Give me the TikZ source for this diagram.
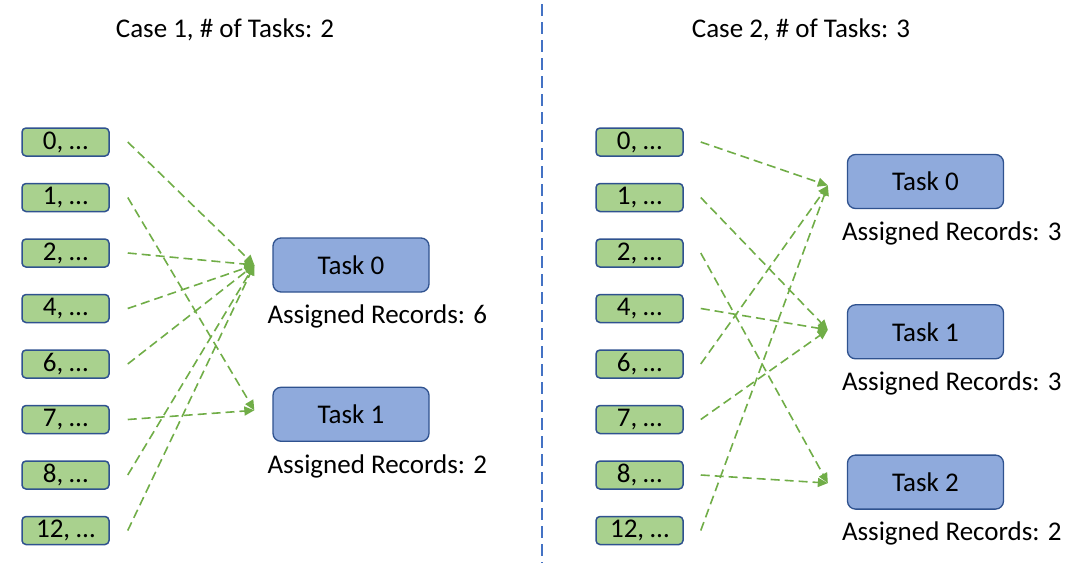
\documentclass[tikz,border=0pt]{standalone}
\usepackage{fontspec}
\setmainfont{Carlito}
\usetikzlibrary{positioning,arrows.meta}

\definecolor{recgreen}{HTML}{A9D18E}
\definecolor{taskblue}{HTML}{8FAADC}
\definecolor{edgeblue}{HTML}{2F528F}
\definecolor{linkgreen}{HTML}{70AD47}
\definecolor{splitblue}{HTML}{4472C4}

\begin{document}
\begin{tikzpicture}[
    x=1pt, y=-1pt,
    node distance=26pt,
    font=\fontsize{27pt}{32pt}\selectfont,
    record/.style={
        rectangle,
        draw=edgeblue,
        line width=1.5pt,
        fill=recgreen,
        minimum width=87pt,
        minimum height=28pt,
        inner sep=0pt,
        rounded corners=4pt
    },
    task/.style={
        rectangle,
        draw=edgeblue,
        line width=1.3pt,
        fill=taskblue,
        minimum width=156pt,
        minimum height=54pt,
        inner sep=0pt,
        rounded corners=8pt
    },
    info/.style={anchor=west, inner sep=0pt},
    assign/.style={
        draw=linkgreen,
        line width=1.6pt,
        dash pattern=on 9pt off 5pt,
        -{Triangle[length=10pt,width=9pt]}
    },
    divider/.style={draw=splitblue, line width=1.5pt, dash pattern=on 12pt off 6pt}
]
    \useasboundingbox (0,0) rectangle (1080,563);

    % Titles and split
    \node (title1) at (225,30) {Case 1, \# of Tasks: 2};
    \node (title2) at (801,30) {Case 2, \# of Tasks: 3};
    \coordinate (splittop) at (542,4);
    \coordinate (splitbot) at (542,563);
    \draw[divider] (splittop) -- (splitbot);

    % Case 1 records
    \node[record] (l0) at (65.5,142) {0, …};
    \node[record] (l1) [below=of l0] {1, …};
    \node[record] (l2) [below=of l1] {2, …};
    \node[record] (l4) [below=of l2] {4, …};
    \node[record] (l6) [below=of l4] {6, …};
    \node[record] (l7) [below=of l6] {7, …};
    \node[record] (l8) [below=of l7] {8, …};
    \node[record] (l12) [below=of l8] {12, …};

    % Case 1 tasks
    \node[task] (lt0) at (351,265) {Task 0};
    \node[task] (lt1) [below=94pt of lt0] {Task 1};
    \node[info] (lr0) at ([xshift=-5pt,yshift=-24pt]lt0.south west) {Assigned Records: 6};
    \node[info] (lr1) at ([xshift=-5pt,yshift=-24pt]lt1.south west) {Assigned Records: 2};

    % Case 2 records
    \node[record] (r0) at (639.5,142) {0, …};
    \node[record] (r1) [below=of r0] {1, …};
    \node[record] (r2) [below=of r1] {2, …};
    \node[record] (r4) [below=of r2] {4, …};
    \node[record] (r6) [below=of r4] {6, …};
    \node[record] (r7) [below=of r6] {7, …};
    \node[record] (r8) [below=of r7] {8, …};
    \node[record] (r12) [below=of r8] {12, …};

    % Case 2 tasks
    \node[task] (rt0) at (925.5,181.5) {Task 0};
    \node[task] (rt1) [below=95pt of rt0] {Task 1};
    \node[task] (rt2) [below=95pt of rt1] {Task 2};
    \node[info] (rr0) at ([xshift=-5pt,yshift=-24pt]rt0.south west) {Assigned Records: 3};
    \node[info] (rr1) at ([xshift=-5pt,yshift=-24pt]rt1.south west) {Assigned Records: 3};
    \node[info] (rr2) at ([xshift=-5pt,yshift=-24pt]rt2.south west) {Assigned Records: 2};

    % Case 1 assignment
    \draw[assign] ([xshift=18pt]l0.east) -- ([xshift=-18pt]lt0.west);
    \draw[assign] ([xshift=18pt]l2.east) -- ([xshift=-18pt]lt0.west);
    \draw[assign] ([xshift=18pt]l4.east) -- ([xshift=-18pt]lt0.west);
    \draw[assign] ([xshift=18pt]l6.east) -- ([xshift=-18pt]lt0.west);
    \draw[assign] ([xshift=18pt]l8.east) -- ([xshift=-18pt]lt0.west);
    \draw[assign] ([xshift=18pt]l12.east) -- ([xshift=-18pt]lt0.west);
    \draw[assign] ([xshift=18pt]l1.east) -- ([xshift=-18pt,yshift=4pt]lt1.west);
    \draw[assign] ([xshift=18pt]l7.east) -- ([xshift=-18pt,yshift=4pt]lt1.west);

    % Case 2 assignment
    \draw[assign] ([xshift=17pt]r0.east) -- ([xshift=-19pt,yshift=-4pt]rt0.west);
    \draw[assign] ([xshift=17pt]r6.east) -- ([xshift=-19pt,yshift=-4pt]rt0.west);
    \draw[assign] ([xshift=17pt]r12.east) -- ([xshift=-19pt,yshift=-4pt]rt0.west);
    \draw[assign] ([xshift=17pt]r1.east) -- ([xshift=-19pt,yshift=2pt]rt1.west);
    \draw[assign] ([xshift=17pt]r4.east) -- ([xshift=-19pt,yshift=2pt]rt1.west);
    \draw[assign] ([xshift=17pt]r7.east) -- ([xshift=-19pt,yshift=2pt]rt1.west);
    \draw[assign] ([xshift=17pt]r2.east) -- ([xshift=-19pt,yshift=-1pt]rt2.west);
    \draw[assign] ([xshift=17pt]r8.east) -- ([xshift=-19pt,yshift=-1pt]rt2.west);
\end{tikzpicture}
\end{document}
